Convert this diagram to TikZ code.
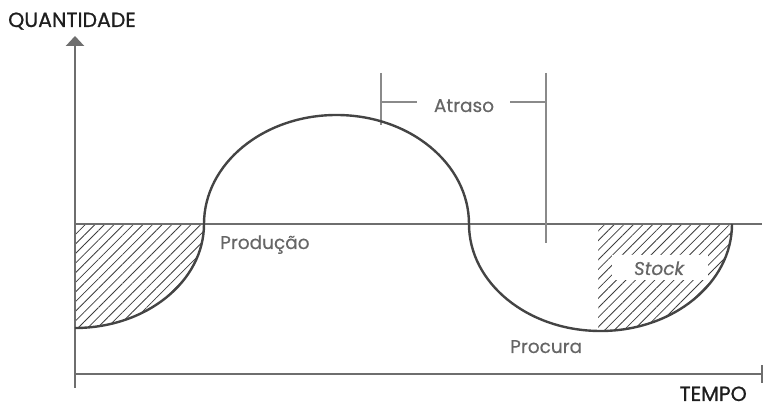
\documentclass[tikz,border=0pt]{standalone}
\usepackage{fontspec}
\setmainfont{Poppins}
\newfontfamily\axisfont{Poppins}[FakeBold=0.9]
\newfontfamily\labelfont{Poppins}[FakeBold=0.35]
\usetikzlibrary{arrows.meta,patterns.meta}
\definecolor{curvecol}{HTML}{444444}
\definecolor{axiscol}{HTML}{6E6E6E}
\definecolor{guidecol}{HTML}{8A8A8A}
\definecolor{labelcol}{HTML}{666666}
\definecolor{titlecol}{HTML}{1E1E1E}
\tikzset{
  axisline/.style={draw=axiscol,line width=2.2pt},
  flowcurve/.style={draw=curvecol,line width=2.4pt},
  guideline/.style={draw=guidecol,line width=1.2pt},
  hatch/.style={pattern={Lines[angle=45,distance=6.8pt,line width=0.8pt]},pattern color=curvecol!90!black},
  axislabel/.style={text=titlecol,font=\axisfont\fontsize{20.5}{23}\selectfont,inner sep=0pt},
  curvelabel/.style={text=labelcol,font=\labelfont\fontsize{18.5}{21}\selectfont,inner sep=0pt},
}
\begin{document}
\begin{tikzpicture}[x=1pt,y=1pt]
\useasboundingbox (0,0) rectangle (764,406);

% key points of the axes and the zero line
\coordinate (ybot) at (75,18);
\coordinate (ytop) at (75,370);
\coordinate (xend) at (762,32);
\coordinate (xorig) at (75,32);
\coordinate (zl) at (75,182);
\coordinate (zr) at (762,182);

% hatched areas (stock)
\fill[hatch] (75,182) -- (75,78) arc[start angle=270,end angle=360,x radius=129,y radius=104] -- cycle;
\begin{scope}
  \clip (598,0) rectangle (764,182);
  \fill[hatch] (469,182) arc[start angle=180,end angle=360,x radius=131.5,y radius=107] -- cycle;
\end{scope}

% axes
\draw[axisline,-{Triangle[width=18pt,length=10pt]}] (ybot) -- (ytop);
\draw[axisline] (xorig) -- (xend);
\draw[axisline] (762,23) -- (762,41);

% zero line
\draw[axisline,line width=2.5pt] (zl) -- (zr);

% delay bracket
\coordinate (dl) at (381,304);
\coordinate (dr) at (546,304);
\node[curvelabel,anchor=base] (atraso) at (464,294) {Atraso};
\draw[guideline] (381,333) -- (381,281);
\draw[guideline] (546,333) -- (546,163);
\draw[guideline] (dl) -- (417,304);
\draw[guideline] (510,304) -- (dr);

% production / demand curve
\draw[flowcurve] (75,78)
  arc[start angle=270,end angle=360,x radius=129,y radius=104]
  arc[start angle=180,end angle=0,x radius=132.5,y radius=109]
  arc[start angle=180,end angle=360,x radius=131.5,y radius=107];

% labels
\node[fill=white,minimum width=96pt,minimum height=25pt,inner sep=0pt] (stockbox) at (660,138) {};
\node[curvelabel,anchor=base,font=\labelfont\fontsize{18.5}{21}\selectfont\itshape] (stock) at (659,131) {Stock};
\node[curvelabel,anchor=base west] (prod) at (220,157) {Produção};
\node[curvelabel,anchor=base west] (proc) at (510,53) {Procura};
\node[axislabel,anchor=base west] (qty) at (8,379) {QUANTIDADE};
\node[axislabel,anchor=base east] (time) at (747,5) {TEMPO};
\end{tikzpicture}
\end{document}
